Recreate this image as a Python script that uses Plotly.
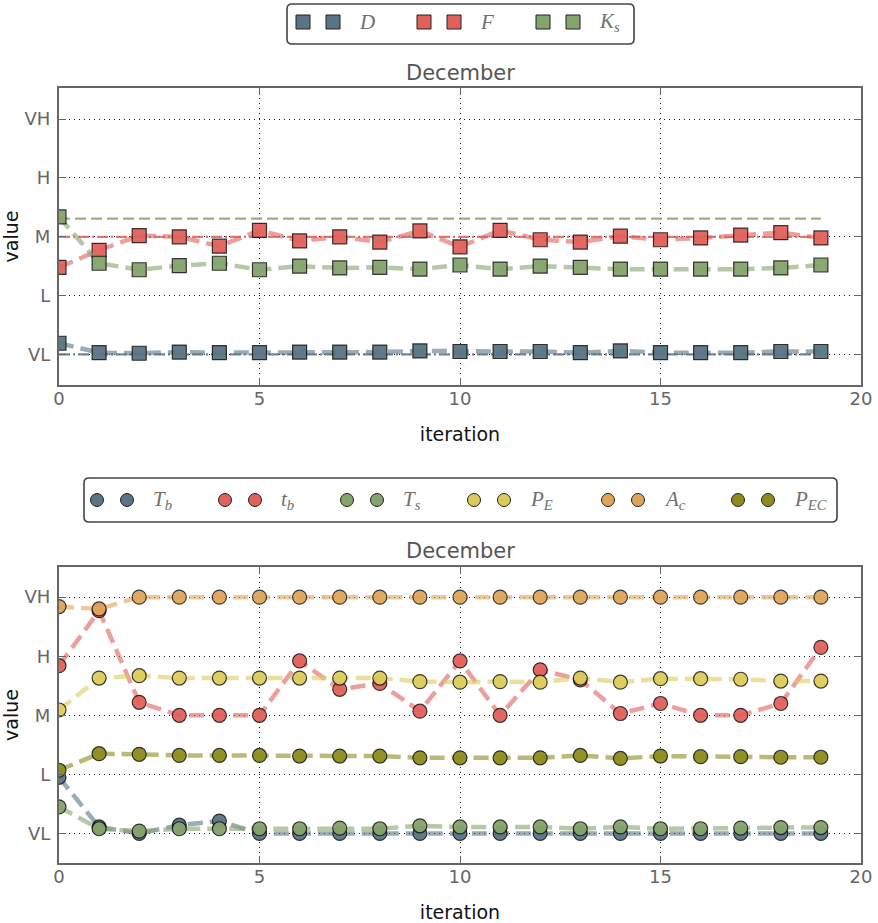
import plotly.graph_objects as go

# ---------------------------------------------------------------- data
iterations = list(range(20))
level_vals = [0, 1, 2, 3, 4]
level_text = ["VL", "L", "M", "H", "VH"]
x_ticks = [0, 5, 10, 15, 20]
panel_title = "December"

# upper panel: drivers (squares) and their reference levels
D = [0.19, 0.03, 0.02, 0.04, 0.03, 0.03, 0.04, 0.04, 0.04, 0.06,
     0.05, 0.05, 0.05, 0.03, 0.06, 0.03, 0.03, 0.03, 0.05, 0.05]
F = [1.48, 1.77, 2.02, 2.00, 1.84, 2.11, 1.93, 2.00, 1.91, 2.10,
     1.83, 2.11, 1.95, 1.91, 2.01, 1.95, 1.98, 2.03, 2.07, 1.98]
K_s = [2.34, 1.55, 1.44, 1.51, 1.55, 1.44, 1.50, 1.47, 1.48, 1.45,
       1.52, 1.45, 1.50, 1.48, 1.45, 1.45, 1.45, 1.45, 1.47, 1.52]
D_ref, F_ref, K_s_ref = 0.0, 2.0, 2.31

# lower panel: states (circles)
T_b = [0.95, 0.11, 0.00, 0.14, 0.21, 0.00, 0.00, 0.00, 0.00, 0.00,
       0.00, 0.00, 0.00, 0.00, 0.00, 0.00, 0.00, 0.00, 0.00, 0.00]
t_b = [2.84, 3.77, 2.22, 2.00, 2.00, 2.00, 2.92, 2.44, 2.54, 2.07,
       2.92, 2.00, 2.77, 2.60, 2.03, 2.20, 2.00, 2.00, 2.20, 3.15]
T_s = [0.45, 0.08, 0.04, 0.08, 0.08, 0.08, 0.08, 0.09, 0.08, 0.13,
       0.11, 0.11, 0.11, 0.08, 0.11, 0.08, 0.08, 0.09, 0.10, 0.10]
P_E = [2.09, 2.63, 2.67, 2.63, 2.63, 2.63, 2.63, 2.63, 2.63, 2.57,
       2.56, 2.57, 2.56, 2.63, 2.56, 2.62, 2.62, 2.61, 2.58, 2.58]
A_c = [3.84, 3.80, 4.00, 4.00, 4.00, 4.00, 4.00, 4.00, 4.00, 4.00,
       4.00, 4.00, 4.00, 4.00, 4.00, 4.00, 4.00, 4.00, 4.00, 4.00]
P_EC = [1.07, 1.35, 1.34, 1.32, 1.32, 1.32, 1.31, 1.31, 1.31, 1.28,
        1.28, 1.28, 1.28, 1.32, 1.27, 1.31, 1.30, 1.30, 1.29, 1.29]

# ---------------------------------------------------------------- styling
BLUE, RED, GREEN = "#5a7483", "#e0615c", "#85a36d"
YELLOW, ORANGE, OLIVE = "#dccb5c", "#dea55a", "#8c8c1e"

W, H = 878, 923
L, R, T, B = 59, 861, 88, 863          # plotting region in pixels


def rgba(hex_color, a):
    h = hex_color.lstrip("#")
    r, g, b = (int(h[i:i + 2], 16) for i in (0, 2, 4))
    return f"rgba({r},{g},{b},{a})"


def px(x):
    return (x - L) / (R - L)


def py(y):
    return (B - y) / (B - T)


upper = [("D", D, BLUE, "<i>D</i>"),
         ("F", F, RED, "<i>F</i>"),
         ("K_s", K_s, GREEN, "<i>K</i><sub><i>s</i></sub>")]
upper_refs = [(D_ref, BLUE, "dashdot"), (F_ref, RED, "dashdot"), (K_s_ref, GREEN, "dash")]
lower = [("T_b", T_b, BLUE, "<i>T</i><sub><i>b</i></sub>"),
         ("t_b", t_b, RED, "<i>t</i><sub><i>b</i></sub>"),
         ("T_s", T_s, GREEN, "<i>T</i><sub><i>s</i></sub>"),
         ("P_E", P_E, YELLOW, "<i>P</i><sub><i>E</i></sub>"),
         ("A_c", A_c, ORANGE, "<i>A</i><sub><i>c</i></sub>"),
         ("P_EC", P_EC, OLIVE, "<i>P</i><sub><i>EC</i></sub>")]

fig = go.Figure()

# reference levels in the upper panel
for val, col, dash in upper_refs:
    fig.add_trace(go.Scatter(
        x=[iterations[0], iterations[-1]], y=[val, val], mode="lines",
        line=dict(color=rgba(col, 0.85), width=2.2,
                  dash="11px,5px" if dash == "dash" else "11px,3px,2px,3px"),
        showlegend=False, hoverinfo="skip", xaxis="x", yaxis="y"))

for name, vals, col, _ in upper:
    fig.add_trace(go.Scatter(
        x=iterations, y=vals, mode="lines+markers", name=name,
        line=dict(color=rgba(col, 0.6), width=4.5, dash="15px,7px"),
        marker=dict(symbol="square", size=14, color=rgba(col, 0.95),
                    line=dict(color="rgba(0,0,0,0.75)", width=1.2)),
        showlegend=False, xaxis="x", yaxis="y"))

for name, vals, col, _ in lower:
    fig.add_trace(go.Scatter(
        x=iterations, y=vals, mode="lines+markers", name=name,
        line=dict(color=rgba(col, 0.6), width=4.5, dash="15px,7px"),
        marker=dict(symbol="circle", size=14, color=rgba(col, 0.95),
                    line=dict(color="rgba(0,0,0,0.75)", width=1.2)),
        showlegend=False, xaxis="x2", yaxis="y2"))

# ---------------------------------------------------------------- axes
axis_common = dict(
    showline=True, linecolor="#666666", linewidth=2, mirror="ticks",
    ticks="inside", ticklen=7, tickwidth=1.3, tickcolor="#666666",
    showgrid=True, gridcolor="rgba(0,0,0,0.9)", gridwidth=1, griddash="1px,4px",
    zeroline=False, tickfont=dict(family="DejaVu Sans", size=18, color="#666666"),
)
x_common = dict(axis_common, range=[0, 20], tickvals=x_ticks, ticklabelstandoff=-4,
                title=dict(text="iteration", font=dict(family="DejaVu Sans", size=19, color="#111111"),
                           standoff=20))
y_common = dict(axis_common, tickvals=level_vals, ticktext=level_text, ticklabelstandoff=3,
                title=dict(text="value", font=dict(family="DejaVu Sans", size=19, color="#111111"),
                           standoff=4))

top_dom = [py(385), 1.0]
bot_dom = [0.0, py(567)]

fig.update_layout(
    width=W, height=H,
    margin=dict(l=L, r=W - R, t=T, b=H - B, autoexpand=False),
    paper_bgcolor="white", plot_bgcolor="white",
    showlegend=False,
    xaxis=dict(x_common, domain=[0, 1], anchor="y"),
    yaxis=dict(y_common, domain=top_dom, range=[-0.52, 4.53], anchor="x"),
    xaxis2=dict(x_common, domain=[0, 1], anchor="y2"),
    yaxis2=dict(y_common, domain=bot_dom, range=[-0.50, 4.51], anchor="x2"),
)

# ---------------------------------------------------------------- titles
annotations = []
for y_pix in (73, 551):
    annotations.append(dict(
        text=panel_title, xref="paper", yref="paper", x=px(460), y=py(y_pix),
        xanchor="center", yanchor="middle", showarrow=False,
        font=dict(family="DejaVu Sans", size=21, color="#555555")))

# ---------------------------------------------------------------- legends
shapes = []


def rounded_box(x0, y0, x1, y1, r=5):
    a0, a1 = px(x0), px(x1)
    b0, b1 = py(y0), py(y1)           # b0 is the top edge
    rx, ry = r / (R - L), r / (B - T)
    return (f"M {a0 + rx},{b0} L {a1 - rx},{b0} Q {a1},{b0} {a1},{b0 - ry} "
            f"L {a1},{b1 + ry} Q {a1},{b1} {a1 - rx},{b1} "
            f"L {a0 + rx},{b1} Q {a0},{b1} {a0},{b1 + ry} "
            f"L {a0},{b0 - ry} Q {a0},{b0} {a0 + rx},{b0} Z")


def legend_block(box, cy, starts, series, kind):
    shapes.append(dict(type="path", xref="paper", yref="paper",
                       path=rounded_box(*box), line=dict(color="#444444", width=1.6),
                       fillcolor="white", layer="above"))
    half = 7 if kind == "rect" else 6.5
    for x0, (_, _, col, label) in zip(starts, series):
        for dx in (0, 30):
            cx = x0 + dx
            shapes.append(dict(type=kind, xref="paper", yref="paper",
                               x0=px(cx - half), x1=px(cx + half),
                               y0=py(cy + half), y1=py(cy - half),
                               fillcolor=col, line=dict(color="#222222", width=1),
                               layer="above"))
        annotations.append(dict(
            text=label, xref="paper", yref="paper", x=px(x0 + 54), y=py(cy),
            xanchor="left", yanchor="middle", showarrow=False,
            font=dict(family="Liberation Serif", size=21, color="#707070")))


legend_block((287, 4, 634, 44), 22, [303, 424, 543], upper, "rect")
legend_block((84, 478, 837, 522), 500, [97, 225, 347, 474, 608, 738], lower, "circle")

fig.update_layout(shapes=shapes, annotations=annotations)

fig.write_html("out.html")
